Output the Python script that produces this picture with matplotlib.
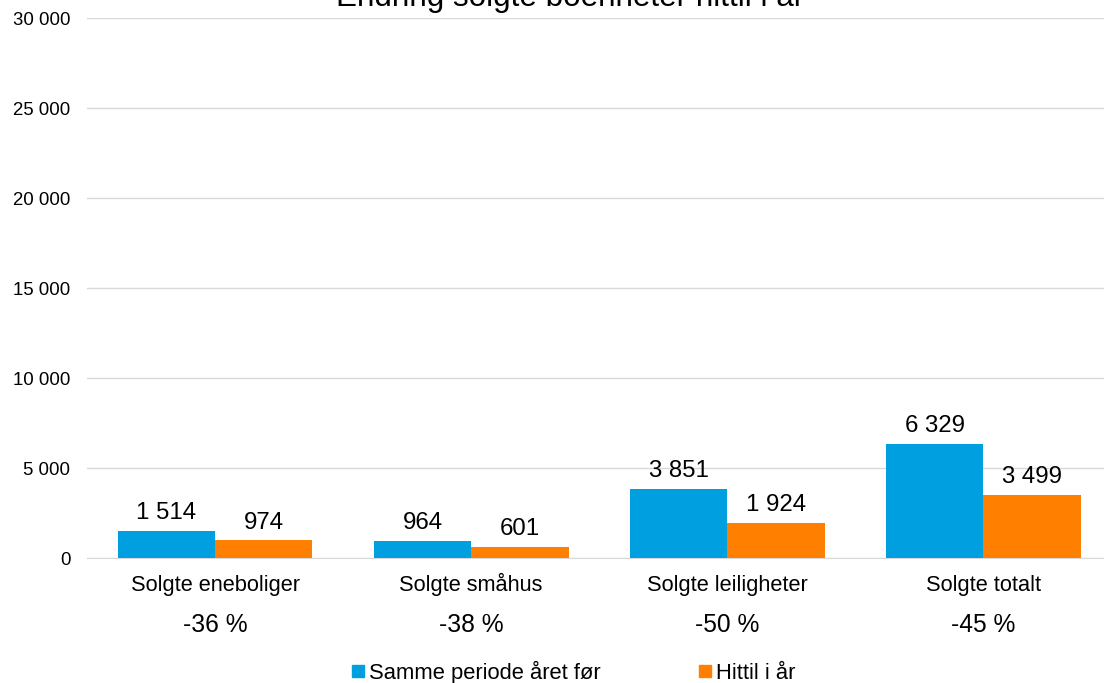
import matplotlib.pyplot as plt
import numpy as np
from matplotlib.lines import Line2D

plt.rcParams["font.family"] = ["Liberation Sans", "DejaVu Sans"]

categories = ["Solgte eneboliger", "Solgte småhus", "Solgte leiligheter", "Solgte totalt"]
previous_year = [1514, 964, 3851, 6329]
this_year = [974, 601, 1924, 3499]
change_labels = ["-36 %", "-38 %", "-50 %", "-45 %"]
series_names = ["Samme periode året før", "Hittil i år"]
title = "Endring solgte boenheter hittil i år"

blue = "#009FDF"
orange = "#FF8000"


def fmt(v):
    return f"{v:,}".replace(",", " ")


fig = plt.figure(figsize=(11.04, 6.83), dpi=100)
ax = fig.add_axes([0.0788, 0.183, 0.928, 0.7906])

x = np.arange(len(categories))
w = 0.38
b1 = ax.bar(x - w / 2, previous_year, w, color=blue, zorder=3)
b2 = ax.bar(x + w / 2, this_year, w, color=orange, zorder=3)

for bars, vals in ((b1, previous_year), (b2, this_year)):
    for bar, v in zip(bars, vals):
        ax.annotate(fmt(v), (bar.get_x() + bar.get_width() / 2, v),
                    xytext=(0, 5), textcoords="offset points",
                    ha="center", va="bottom", fontsize=17.3)

ax.set_xlim(-0.5, len(categories) - 0.5)
ax.set_ylim(0, 30000)
ax.set_yticks(np.arange(0, 30001, 5000))
ax.set_yticklabels([fmt(v) for v in range(0, 30001, 5000)], fontsize=13.4)
ax.set_xticks(x)
ax.set_xticklabels([])
ax.tick_params(axis="both", length=0)
ax.tick_params(axis="y", pad=12)
ax.grid(axis="y", color="#D9D9D9", linewidth=1, zorder=0)
for side in ("left", "right", "top"):
    ax.spines[side].set_visible(False)
ax.spines["bottom"].set_color("#D9D9D9")

# category names share a baseline below the axis
for xi, cat in zip(x, categories):
    ax.annotate(cat, (xi, 0), xytext=(0, -23.5), textcoords="offset points",
                ha="center", va="baseline", fontsize=15.7)

for xi, lab in zip(x, change_labels):
    ax.annotate(lab, (xi, 0), xytext=(0, -48), textcoords="offset points",
                ha="center", va="center", fontsize=17.7)

fig.text(0.516, 0.991, title, ha="center", va="baseline", fontsize=22.6)

handles = [Line2D([], [], marker="s", linestyle="", color=c, markersize=9)
           for c in (blue, orange)]
fig.legend(handles, series_names, loc="center", bbox_to_anchor=(0.519, 0.016),
           ncol=2, frameon=False, fontsize=15.8, handletextpad=0.15,
           columnspacing=4.4, handlelength=0.7)

fig.savefig("out.png", dpi=100)
